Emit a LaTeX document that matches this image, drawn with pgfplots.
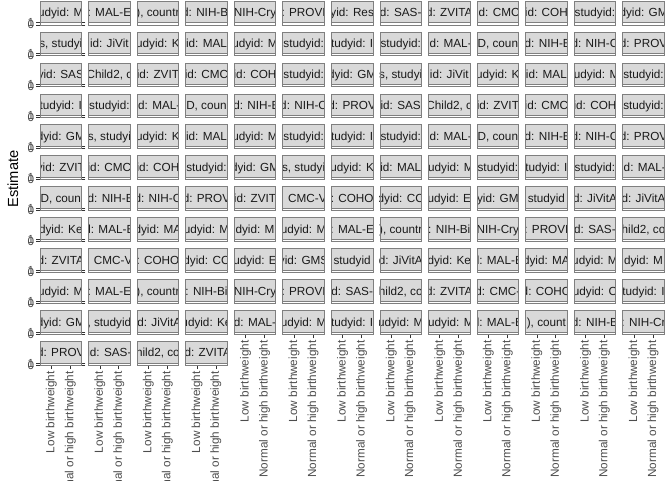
\documentclass[border=0pt]{standalone}
\usepackage{pgfplots}
\pgfplotsset{compat=1.18}
\usepackage{fontspec}
\setmainfont{Liberation Sans}
\definecolor{stripfill}{HTML}{D9D9D9}
\definecolor{stripborder}{HTML}{7F7F7F}
\definecolor{ticklab}{HTML}{4D4D4D}
\definecolor{striptext}{HTML}{1A1A1A}
\begin{document}
\begin{tikzpicture}[x=0.75pt,y=0.75pt]
\fill[white] (0,0) rectangle (672,480);
\foreach \lab [count=\i from 0] in {
{udyid: M},{: MAL-E},{), countr},{d: NIH-Bi},{NIH-Cry},{: PROVI},{yid: Res},{d: SAS-},{d: ZVITA},{id: CMC},{id: COH},{studyid:},{dyid: GM},
{s, studyi},{id: JiVit},{udyid: K},{id: MAL},{udyid: M},{studyid:},{tudyid: I},{studyid:},{id: MAL-},{D, coun},{id: NIH-E},{d: NIH-C},{d: PROV},
{yid: SAS},{Child2, c},{id: ZVIT},{id: CMC},{id: COH},{studyid:},{dyid: GM},{s, studyi},{id: JiVit},{udyid: K},{id: MAL},{tudyid: M},{studyid:},
{tudyid: I},{studyid:},{id: MAL-},{D, coun},{id: NIH-E},{d: NIH-C},{d: PROV},{id: SAS},{Child2, c},{id: ZVIT},{id: CMC},{id: COH},{studyid:},
{dyid: GM},{s, studyi},{udyid: K},{id: MAL},{udyid: M},{studyid:},{tudyid: I},{studyid:},{id: MAL-},{D, coun},{id: NIH-E},{d: NIH-C},{d: PROV},
{yid: ZVIT},{id: CMC},{id: COH},{studyid:},{dyid: GM},{s, studyi},{udyid: K},{id: MAL},{tudyid: M},{studyid:},{tudyid: I},{studyid:},{id: MAL-},
{D, coun},{id: NIH-E},{d: NIH-C},{d: PROV},{id: ZVIT},{: CMC-V},{: COHO},{dyid: CC},{udyid: E},{yid: GM},{studyid},{d: JiVitA},{d: JiVitA},
{dyid: Ke},{d: MAL-E},{dyid: MA},{udyid: M},{dyid: M},{udyid: M},{: MAL-E},{), countr},{: NIH-Bi},{NIH-Cry},{: PROVI},{d: SAS-},{hild2, co},
{d: ZVITA},{: CMC-V},{: COHO},{dyid: CC},{udyid: E},{yid: GMS},{studyid},{d: JiVitA},{dyid: Ke},{d: MAL-E},{dyid: MA},{udyid: M},{dyid: M},
{udyid: M},{: MAL-E},{), countr},{: NIH-Bi},{NIH-Cry},{: PROVI},{d: SAS-},{hild2, co},{d: ZVITA},{d: CMC-},{d: COHO},{udyid: C},{tudyid: I},
{dyid: GM},{, studyid},{id: JiVitA},{udyid: Ke},{d: MAL-},{udyid: M},{tudyid: I},{udyid: M},{tudyid: M},{d: MAL-E},{), count},{d: NIH-B},{: NIH-Cr},
{d: PROV},{id: SAS-},{hild2, co},{id: ZVITA}}{
  \pgfmathtruncatemacro{\c}{mod(\i,13)}
  \pgfmathtruncatemacro{\r}{int(\i/13)}
  \pgfmathsetmacro{\xl}{40+48.56*\c}
  \pgfmathsetmacro{\xr}{\xl+41.6}
  \pgfmathsetmacro{\xm}{\xl+20.8}
  \pgfmathsetmacro{\yt}{480-(1+30.97*\r)}
  \pgfmathsetmacro{\ys}{\yt-21.3}
  \pgfmathsetmacro{\yb}{\ys-2.6}
  \pgfmathsetmacro{\xlpt}{0.75*\xl}
  \pgfmathsetmacro{\ybpt}{0.75*\yb}
  \pgfmathtruncatemacro{\isbot}{(\r==11)||((\r==10)&&(\c>3))}
  \ifnum\c=0
    \pgfplotsset{facety/.style={ytick={0,1},yticklabels={0,1}}}
  \else
    \pgfplotsset{facety/.style={ytick=\empty}}
  \fi
  \ifnum\isbot=1
    \pgfplotsset{facetx/.style={xtick={1,2},xticklabels={Low birthweight,Normal or high birthweight}}}
  \else
    \pgfplotsset{facetx/.style={xtick=\empty}}
  \fi
  \begin{axis}[
    at={(\xlpt pt,\ybpt pt)}, anchor=south west,
    scale only axis, width=31.2pt, height=1.95pt,
    xmin=0.4, xmax=2.6, ymin=0, ymax=1,
    axis line style={draw=stripborder, line width=0.6pt},
    tick align=outside, major tick length=2.75pt,
    tick style={black!80, line width=0.6pt},
    ticklabel style={font=\fontsize{8.8}{10}\selectfont, text=ticklab},
    xticklabel style={rotate=90, anchor=east, inner sep=1.5pt},
    yticklabel style={anchor=east, inner sep=1.5pt},
    facetx, facety,
  ]
  \end{axis}
  \fill[stripfill] (\xl,\ys) rectangle (\xr,\yt);
  \begin{scope}
    \clip (\xl,\ys) rectangle (\xr,\yt);
    \node[anchor=base, inner sep=0pt, font=\fontsize{8.8}{10}\selectfont, text=striptext] at (\xm,\ys+6.0) {\lab};
  \end{scope}
  \draw[stripborder, line width=0.6pt] (\xl,\ys) rectangle (\xr,\yt);
}
\node[rotate=90, font=\fontsize{11}{13}\selectfont] at (13,301) {Estimate};
\pgfresetboundingbox
\useasboundingbox (0,0) rectangle (672,480);
\end{tikzpicture}
\end{document}
